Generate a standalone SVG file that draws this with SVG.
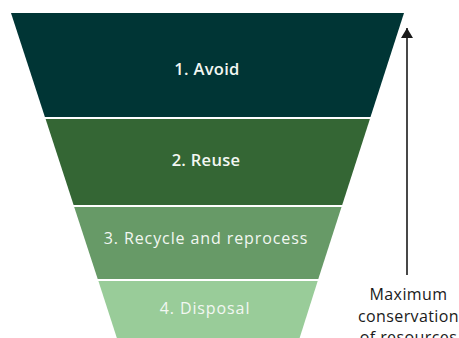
<svg xmlns="http://www.w3.org/2000/svg" width="459" height="338" viewBox="0 0 459 338">
  <defs>
    <marker id="head" viewBox="0 0 10 12" refX="10" refY="6" markerWidth="10" markerHeight="12" markerUnits="userSpaceOnUse" orient="auto">
      <path d="M0,0 L10,6 L0,12 Z" fill="#1a1a1a"/>
    </marker>
    <style>
      .lbl { font-family: "Open Sans", "Liberation Sans", sans-serif; fill: #f2f7f2; text-anchor: middle; }
      .strong { font-size: 16.5px; font-weight: 600; letter-spacing: 0.3px; }
      .light { font-size: 16px; font-weight: 400; letter-spacing: 0.9px; }
      .side { font-family: "Open Sans", "Liberation Sans", sans-serif; font-size: 16px; fill: #1a1a1a; text-anchor: middle; letter-spacing: 0.4px; }
    </style>
  </defs>
  <rect width="459" height="338" fill="#ffffff"/>

  <g id="avoid">
    <polygon points="11,13 404,13 370.5,117 44.9,117" fill="#003535"/>
    <text class="lbl strong" x="207" y="75">1. Avoid</text>
  </g>

  <g id="reuse">
    <polygon points="45.6,119 369.9,119 342.2,205 73.6,205" fill="#346634"/>
    <text class="lbl strong" x="206" y="166">2. Reuse</text>
  </g>

  <g id="recycle">
    <polygon points="74.2,207 341.5,207 318.3,279 97.7,279" fill="#679a67"/>
    <text class="lbl light" x="206" y="244">3. Recycle and reprocess</text>
  </g>

  <g id="disposal">
    <polygon points="98.4,281 317.7,281 299,340 117.5,340" fill="#99cc99"/>
    <text class="lbl light" x="205" y="314">4. Disposal</text>
  </g>

  <g id="connectors">
    <line x1="407" y1="275" x2="407" y2="28" stroke="#1a1a1a" stroke-width="1.6" marker-end="url(#head)"/>
  </g>

  <g id="caption">
    <text class="side" x="408.5" y="300">Maximum</text>
    <text class="side" x="408.5" y="322">conservation</text>
    <text class="side" x="408.5" y="343">of resources</text>
  </g>
</svg>
